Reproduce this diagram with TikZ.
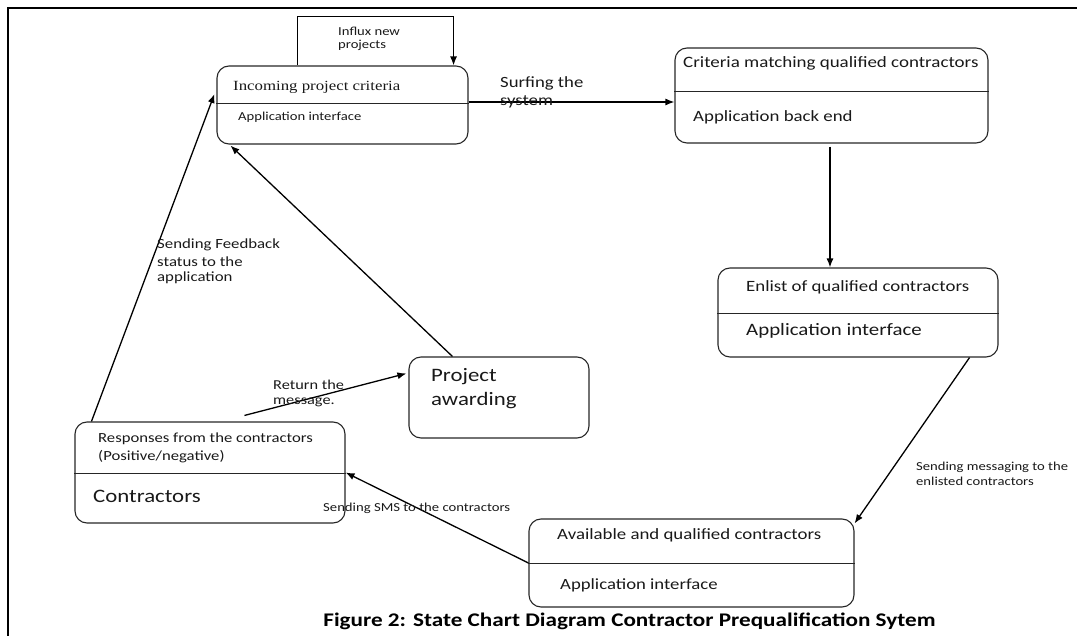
\documentclass[tikz,border=0pt]{standalone}
\usepackage{fontspec}
\setmainfont{Carlito}[FakeStretch=1.2]
\newfontfamily\serifst{Liberation Serif}[FakeStretch=1.2]
\newcommand\fsz[1]{\fontsize{#1}{#1}\selectfont}
\usetikzlibrary{arrows.meta,calc}
\begin{document}
\begin{tikzpicture}[x=1pt,y=-1pt,
  state/.style={draw=black!85,line width=1.1pt,rounded corners=12pt,inner sep=0pt},
  divider/.style={draw=black!85,line width=1pt},
  arr/.style={draw=black,line width=1.3pt,-{Latex[length=9pt,width=7pt]}},
  txt/.style={anchor=west,inner sep=0pt,text=black!90},
  frame/.style={draw=black,line width=1.6pt}]
\useasboundingbox (0,0) rectangle (1077,636);
\coordinate (ftl) at (8,8);
\coordinate (ftr) at (1077,8);
\coordinate (fbl) at (8,636);
\draw[frame] (fbl) -- (ftl) -- (ftr);

% states
\node[state,minimum width=251pt,minimum height=78pt] (inc) at (342.5,105) {};
\node[state,minimum width=313pt,minimum height=95pt] (crit) at (831.5,95.5) {};
\node[state,minimum width=280pt,minimum height=89pt] (enl) at (858,312.5) {};
\node[state,minimum width=325pt,minimum height=88pt] (avail) at (691.5,563) {};
\node[state,minimum width=270pt,minimum height=101pt] (resp) at (210,472.5) {};
\node[state,minimum width=180pt,minimum height=81pt] (award) at (499,397.5) {};

% dividers
\draw[divider] ([yshift=1pt]inc.west) -- ([yshift=1pt]inc.east);
\draw[divider] ([yshift=3.5pt]crit.west) -- ([yshift=3.5pt]crit.east);
\draw[divider] ([yshift=-1.5pt]enl.west) -- ([yshift=-1.5pt]enl.east);
\draw[divider] (avail.west) -- (avail.east);
\draw[divider] ([yshift=-0.5pt]resp.west) -- ([yshift=-0.5pt]resp.east);

% texts in states
\node[txt,font=\serifst\fsz{14}] (t1) at (233,87) {Incoming project criteria};
\node[txt,font=\fsz{12.2}] (t2) at (238,117) {Application interface};
\node[txt,font=\fsz{15.8}] (t3) at (683,63) {Criteria matching qualified contractors};
\node[txt,font=\fsz{15.7}] (t4) at (693,117) {Application back end};
\node[txt,font=\fsz{15.7}] (t5) at (746,287) {Enlist of qualified contractors};
\node[txt,font=\fsz{17.4}] (t6) at (746,331) {Application interface};
\node[txt,font=\fsz{15.7}] (t7) at (557,535) {Available and qualified contractors};
\node[txt,font=\fsz{15.6}] (t8) at (560,585) {Application interface};
\node[txt,font=\fsz{13.9}] (t9) at (98,439) {Responses from the contractors};
\node[txt,font=\fsz{13.9}] (t10) at (98,457) {(Positive/negative)};
\node[txt,font=\fsz{19}] (t11) at (93,496) {Contractors};
\node[txt,font=\fsz{19}] (t12) at (431,377) {Project};
\node[txt,font=\fsz{19}] (t13) at (431,401) {awarding};

% connectors
\draw[arr] ([xshift=81pt]inc.north west) -- ++(0,-49) coordinate (lp)
  -| ([xshift=-15pt]inc.north east);
\draw[arr] ([yshift=3pt]inc.east) -- ([yshift=3pt]inc.east -| crit.west);
\draw[arr] ([xshift=-1.5pt,yshift=-3pt]crit.south) -- ([xshift=-1.5pt]crit.south |- enl.north);
\draw[arr] ([xshift=-29pt]enl.south east) -- ([yshift=-5pt]avail.north east);
\draw[arr] (avail.west) -- (resp.east);
\draw[arr] ([xshift=170pt,yshift=6pt]resp.north west) -- ([xshift=-2pt,yshift=-17pt]award.north west);
\draw[arr] ([xshift=44pt]award.north west) -- ([xshift=14pt,yshift=-1pt]inc.south west);
\draw[arr] ([xshift=17pt]resp.north west) -- ([xshift=-2pt,yshift=11pt]inc.west);

% connector labels
\node[txt,font=\fsz{12.2}] (l1) at (338,31) {Influx new};
\node[txt,font=\fsz{12.2}] (l2) at (338,45) {projects};
\node[txt,font=\fsz{15.6}] (l3) at (500,83) {Surfing the};
\node[txt,font=\fsz{15.6}] (l4) at (500,102) {system};
\node[txt,font=\fsz{14}] (l5) at (157,245) {Sending Feedback};
\node[txt,font=\fsz{14}] (l6) at (157,262) {status to the};
\node[txt,font=\fsz{14}] (l7) at (157,278) {application};
\node[txt,font=\fsz{13.6}] (l8) at (273,385) {Return the};
\node[txt,font=\fsz{13.6}] (l9) at (273,402) {message.};
\node[txt,font=\fsz{12.25}] (l10) at (323,508) {Sending SMS to the contractors};
\node[txt,font=\fsz{12.2}] (l11) at (916,467) {Sending messaging to the};
\node[txt,font=\fsz{12.2}] (l12) at (916,481) {enlisted contractors};

% caption
\node[inner sep=0pt,font=\bfseries\fsz{19.3}] (cap) at (629.5,621) {Figure 2: State Chart Diagram Contractor Prequalification Sytem};
\end{tikzpicture}
\end{document}
